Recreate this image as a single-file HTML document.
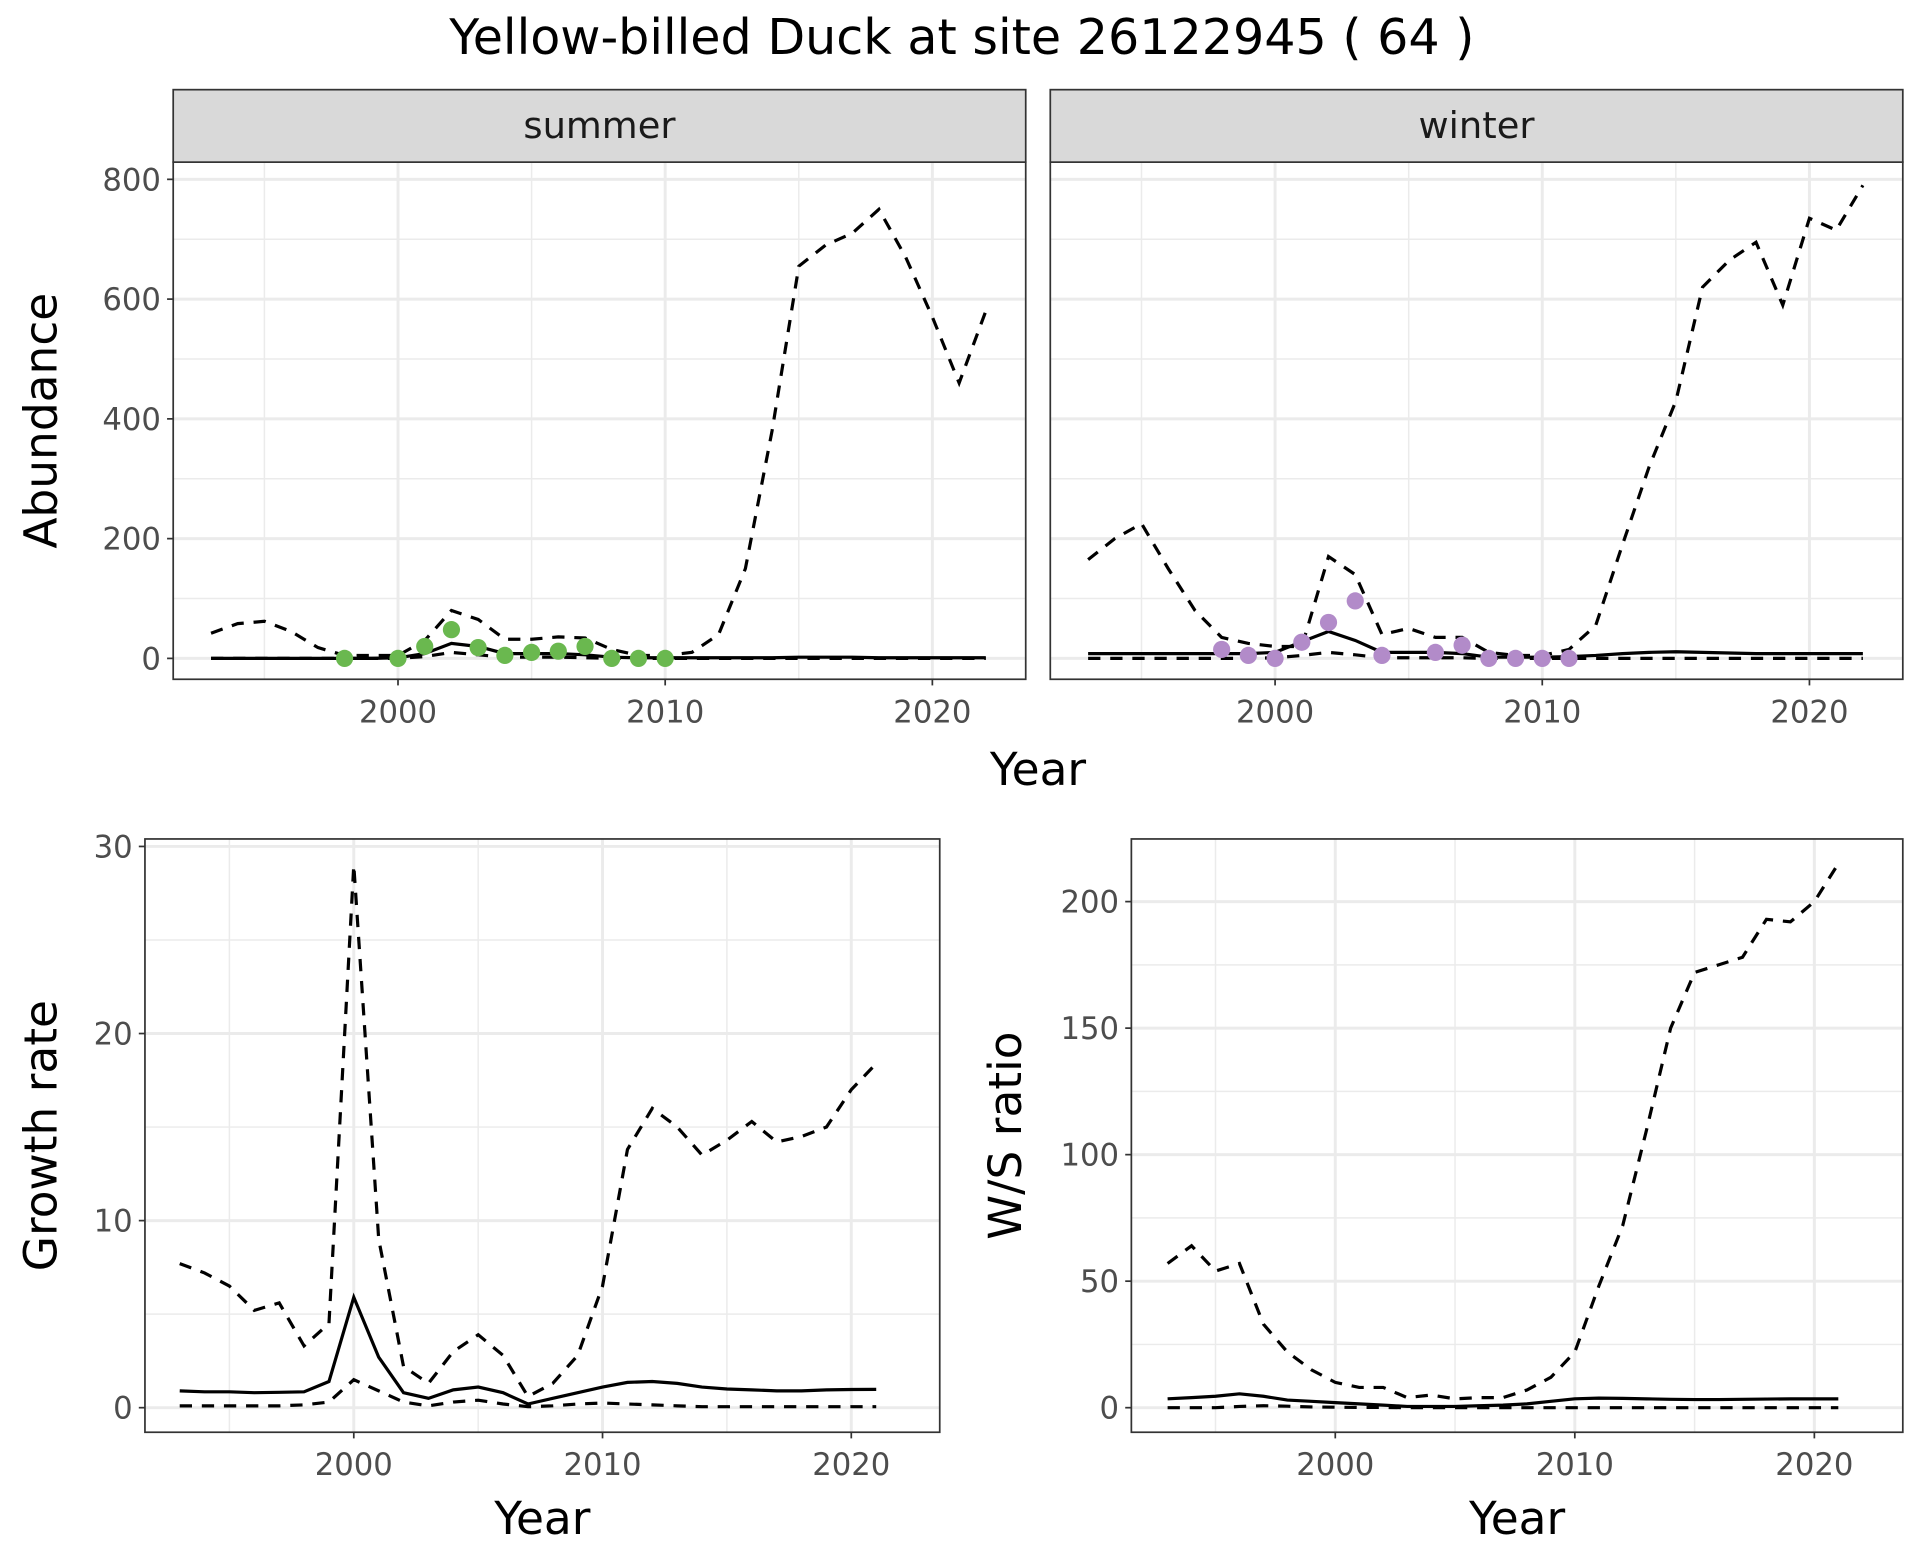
<!DOCTYPE html>
<html><head><meta charset="utf-8"><style>html,body{margin:0;padding:0;background:#fff}svg{display:block}text{font-family:"DejaVu Sans","Liberation Sans",sans-serif}</style></head>
<body>
<svg id="c" width="1920" height="1560" viewBox="0 0 1563 1270" preserveAspectRatio="none" xmlns="http://www.w3.org/2000/svg">
<rect width="1563" height="1270" fill="#fff"/>
<text x="783" y="44" font-size="40" text-anchor="middle">Yellow-billed Duck at site 26122945 ( 64 )</text>
</svg>
<script>
const yearsA=[1993,1994,1995,1996,1997,1998,1999,2000,2001,2002,2003,2004,2005,2006,2007,2008,2009,2010,2011,2012,2013,2014,2015,2016,2017,2018,2019,2020,2021,2022];
const sumUpper=[42,58,62,45,18,5,5,5,30,80,65,32,32,36,34,15,5,5,10,40,150,380,655,690,710,750,670,570,460,580];
const sumMean=[0,0,0,0,0,0,0,1,8,25,20,8,8,8,6,2,1,1,1,1,1,1,2,2,2,1,1,1,1,1];
const sumLower=[0,0,0,0,0,0,0,0,3,10,6,2,2,2,1,0,0,0,0,0,0,0,0,0,0,0,0,0,0,0];
const sumPtYears=[1998,2000,2001,2002,2003,2004,2005,2006,2007,2008,2009,2010];
const sumPts=[0,0,20,48,18,5,10,12,20,0,0,0];
const winUpper=[165,200,225,150,80,35,25,20,20,170,140,40,50,35,35,10,5,5,15,55,190,320,430,620,665,695,590,735,715,790];
const winMean=[8,8,8,8,8,8,8,10,28,45,30,10,10,10,8,2,2,2,3,5,8,10,11,10,9,8,8,8,8,8];
const winLower=[0,0,0,0,0,0,0,1,5,10,6,1,1,1,1,0,0,0,0,0,0,0,0,0,0,0,0,0,0,0];
const winPtYears=[1998,1999,2000,2001,2002,2003,2004,2006,2007,2008,2009,2010,2011];
const winPts=[15,5,0,27,60,96,5,10,22,0,0,0,0];
const yearsB=[1993,1994,1995,1996,1997,1998,1999,2000,2001,2002,2003,2004,2005,2006,2007,2008,2009,2010,2011,2012,2013,2014,2015,2016,2017,2018,2019,2020,2021];
const grUpper=[7.7,7.2,6.5,5.2,5.6,3.3,4.5,29,9,2.2,1.3,3.0,3.9,2.8,0.6,1.3,2.8,6.5,13.8,16.0,15.0,13.5,14.3,15.3,14.2,14.5,15.0,17.0,18.4];
const grMean=[0.9,0.85,0.85,0.8,0.82,0.85,1.4,5.9,2.7,0.8,0.5,0.95,1.1,0.8,0.2,0.5,0.8,1.1,1.35,1.4,1.3,1.1,1.0,0.95,0.9,0.9,0.95,0.97,0.98];
const grLower=[0.1,0.1,0.1,0.1,0.1,0.15,0.3,1.5,0.9,0.3,0.1,0.3,0.4,0.2,0.05,0.1,0.2,0.25,0.2,0.15,0.1,0.05,0.05,0.05,0.05,0.05,0.05,0.05,0.05];
const wsUpper=[57,64,54,57,33,22,15,10,8,8,4,5,3.5,4,4,7,12,22,48,72,110,150,172,175,178,193,192,200,215];
const wsMean=[3.5,4,4.5,5.5,4.5,3,2.5,2,1.5,1,0.5,0.5,0.5,0.8,1,1.5,2.5,3.5,3.8,3.7,3.5,3.3,3.2,3.2,3.3,3.4,3.5,3.5,3.5];
const wsLower=[0,0,0,0.5,0.8,0.6,0.3,0.2,0.1,0.1,0,0,0,0,0,0,0,0,0,0,0,0,0,0,0,0,0,0,0];
const abTicks=[0,200,400,600,800];
const grTicks=[0,10,20,30];
const wsTicks=[0,50,100,150,200];
const xTicks=[2000,2010,2020];

const NS="http://www.w3.org/2000/svg";
const svg=document.getElementById('c');
function mk(tag,attrs,parent){const e=document.createElementNS(NS,tag);for(const k in attrs)e.setAttribute(k,attrs[k]);(parent||svg).appendChild(e);return e;}
function txt(x,y,s,size,fill,anchor,rot){const t=mk('text',{x:x,y:y,'font-size':size,fill:fill,'text-anchor':anchor||'middle'});if(rot)t.setAttribute('transform','rotate(-90 '+x+' '+y+')');t.textContent=s;return t;}

function panel(name,p,yTicks,yMinor,xMinor,showY,yTitle,series,pts,ptColor,xTitle){
  const sx=v=>p.x0+(v-2000)*p.kx, sy=v=>p.y0-v*p.ky;
  const g=mk('g',{});
  
  
  mk('rect',{x:p.l,y:p.t,width:p.r-p.l,height:p.b-p.t,fill:'#fff'},g);
  const clip=mk('clipPath',{id:'cl-'+name},g);mk('rect',{x:p.l,y:p.t,width:p.r-p.l,height:p.b-p.t},clip);
  const inner=mk('g',{'clip-path':'url(#cl-'+name+')'},g);
  yMinor.forEach(v=>mk('line',{x1:p.l,x2:p.r,y1:sy(v),y2:sy(v),stroke:'#ebebeb','stroke-width':1.2},inner));
  xMinor.forEach(v=>mk('line',{y1:p.t,y2:p.b,x1:sx(v),x2:sx(v),stroke:'#ebebeb','stroke-width':1.2},inner));
  yTicks.forEach(v=>mk('line',{x1:p.l,x2:p.r,y1:sy(v),y2:sy(v),stroke:'#ebebeb','stroke-width':2.4},inner));
  xTicks.forEach(v=>mk('line',{y1:p.t,y2:p.b,x1:sx(v),x2:sx(v),stroke:'#ebebeb','stroke-width':2.4},inner));
  series.forEach(s=>{
    const d=s.vals.map((v,i)=>(i?'L':'M')+sx(s.years[i]).toFixed(1)+','+sy(v).toFixed(1)).join('');
    const pa=mk('path',{d:d,fill:'none',stroke:'#000','stroke-width':2.6},inner);
    if(s.dash)pa.setAttribute('stroke-dasharray','10,8');
    
    
  });
  if(pts){pts.vals.forEach((v,i)=>{
    const c=mk('circle',{cx:sx(pts.years[i]),cy:sy(v),r:7,fill:ptColor},inner);
    
    
  });}
  mk('rect',{x:p.l,y:p.t,width:p.r-p.l,height:p.b-p.t,fill:'none',stroke:'#333','stroke-width':1.4},g);
  if(showY){yTicks.forEach(v=>{mk('line',{x1:p.l-5,x2:p.l,y1:sy(v),y2:sy(v),stroke:'#333','stroke-width':1.4},g);txt(p.l-10,sy(v)+9,String(v),25,'#4d4d4d','end');});}
  xTicks.forEach(v=>{mk('line',{x1:sx(v),x2:sx(v),y1:p.b,y2:p.b+5,stroke:'#333','stroke-width':1.4},g);txt(sx(v),p.b+35,String(v),25,'#4d4d4d');});
  if(yTitle){const t=txt(p.ytx,(p.t+p.b)/2,yTitle,37,'#000','middle',true);}
  if(xTitle){const t=txt((p.l+p.r)/2,p.b+83,xTitle,37,'#000');}
  if(p.strip){mk('rect',{x:p.l,y:p.strip,width:p.r-p.l,height:p.t-p.strip,fill:'#d9d9d9',stroke:'#333','stroke-width':1.4},g);const t=txt((p.l+p.r)/2,(p.strip+p.t)/2+10,p.stripLabel,30,'#1a1a1a');}
}
const top1={l:141,r:835,t:132,b:553,x0:324,kx:21.75,y0:536,ky:0.4875,ytx:46,strip:73,stripLabel:'summer'};
const top2={l:855,r:1549,t:132,b:553,x0:1038,kx:21.75,y0:536,ky:0.4875,strip:73,stripLabel:'winter'};
panel('summer-panel',top1,abTicks,[100,300,500,700],[1995,2005,2015],true,'Abundance',
 [{name:'summer-upper',years:yearsA,vals:sumUpper,dash:true},{name:'summer-lower',years:yearsA,vals:sumLower,dash:true},{name:'summer-mean',years:yearsA,vals:sumMean}],
 {years:sumPtYears,vals:sumPts},'#6ab84f',null);
panel('winter-panel',top2,abTicks,[100,300,500,700],[1995,2005,2015],false,null,
 [{name:'winter-upper',years:yearsA,vals:winUpper,dash:true},{name:'winter-lower',years:yearsA,vals:winLower,dash:true},{name:'winter-mean',years:yearsA,vals:winMean}],
 {years:winPtYears,vals:winPts},'#b28bc9',null);
const xt=txt(845,639,'Year',37,'#000');
panel('growth-panel',{l:118,r:765,t:683,b:1166,x0:288,kx:20.25,y0:1146,ky:15.23,ytx:46},grTicks,[5,15,25],[1995,2005,2015],true,'Growth rate',
 [{name:'growth-upper',years:yearsB,vals:grUpper,dash:true},{name:'growth-lower',years:yearsB,vals:grLower,dash:true},{name:'growth-mean',years:yearsB,vals:grMean}],null,null,'Year');
panel('ws-ratio-panel',{l:921,r:1549,t:683,b:1166,x0:1087,kx:19.5,y0:1146,ky:2.06,ytx:831},wsTicks,[25,75,125,175,225],[1995,2005,2015],true,'W/S ratio',
 [{name:'ws-upper',years:yearsB,vals:wsUpper,dash:true},{name:'ws-lower',years:yearsB,vals:wsLower,dash:true},{name:'ws-mean',years:yearsB,vals:wsMean}],null,null,'Year');
</script>
</body></html>
